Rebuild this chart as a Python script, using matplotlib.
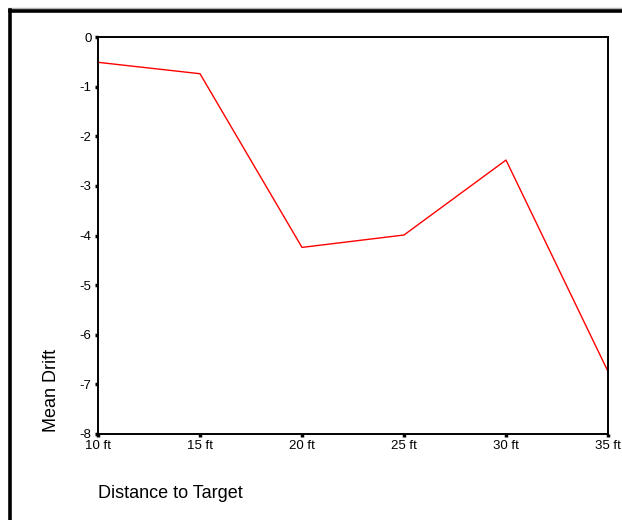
import matplotlib.pyplot as plt
from matplotlib.lines import Line2D

# data
distances = [10, 15, 20, 25, 30, 35]
tick_labels = ['10 ft', '15 ft', '20 ft', '25 ft', '30 ft', '35 ft']
mean_drift = [-0.51, -0.74, -4.24, -3.99, -2.48, -6.74]

plt.rcParams['font.family'] = ['Liberation Sans', 'DejaVu Sans']
plt.rcParams['axes.unicode_minus'] = False

fig = plt.figure(figsize=(6.22, 5.2), dpi=100)
ax = fig.add_axes([98 / 622, 1 - 434 / 520, 510 / 622, 397 / 520])

ax.plot(distances, mean_drift, color='red', lw=1.0)

ax.set_xlim(10, 35)
ax.set_ylim(-8, 0)
ax.set_xticks(distances)
ax.set_xticklabels(tick_labels)
ax.set_yticks(range(-8, 1))
ax.tick_params(direction='out', length=2.5, width=2.5, labelsize=9.5, pad=2)

for s in ax.spines.values():
    s.set_linewidth(1.4)

# axis titles (SPSS style, anchored near the low end)
fig.text(98 / 622, 1 - 494 / 520, 'Distance to Target', fontsize=13,
         ha='left', va='center')
fig.text(52 / 622, 1 - 390 / 520, 'Mean Drift', fontsize=13,
         rotation=90, ha='center', va='center')

# outer frame of the chart window (only top and left visible)
fig.add_artist(Line2D([9 / 622, 1], [1 - 7.5 / 520, 1 - 7.5 / 520],
                      color='#b0b0b0', lw=1, transform=fig.transFigure))
fig.add_artist(Line2D([10.3 / 622, 1], [1 - 10.8 / 520, 1 - 10.8 / 520],
                      color='black', lw=2.6, transform=fig.transFigure))
fig.add_artist(Line2D([10.3 / 622, 10.3 / 622], [0, 1 - 9.5 / 520],
                      color='black', lw=2.6, transform=fig.transFigure))

fig.savefig('out.png', dpi=100)
